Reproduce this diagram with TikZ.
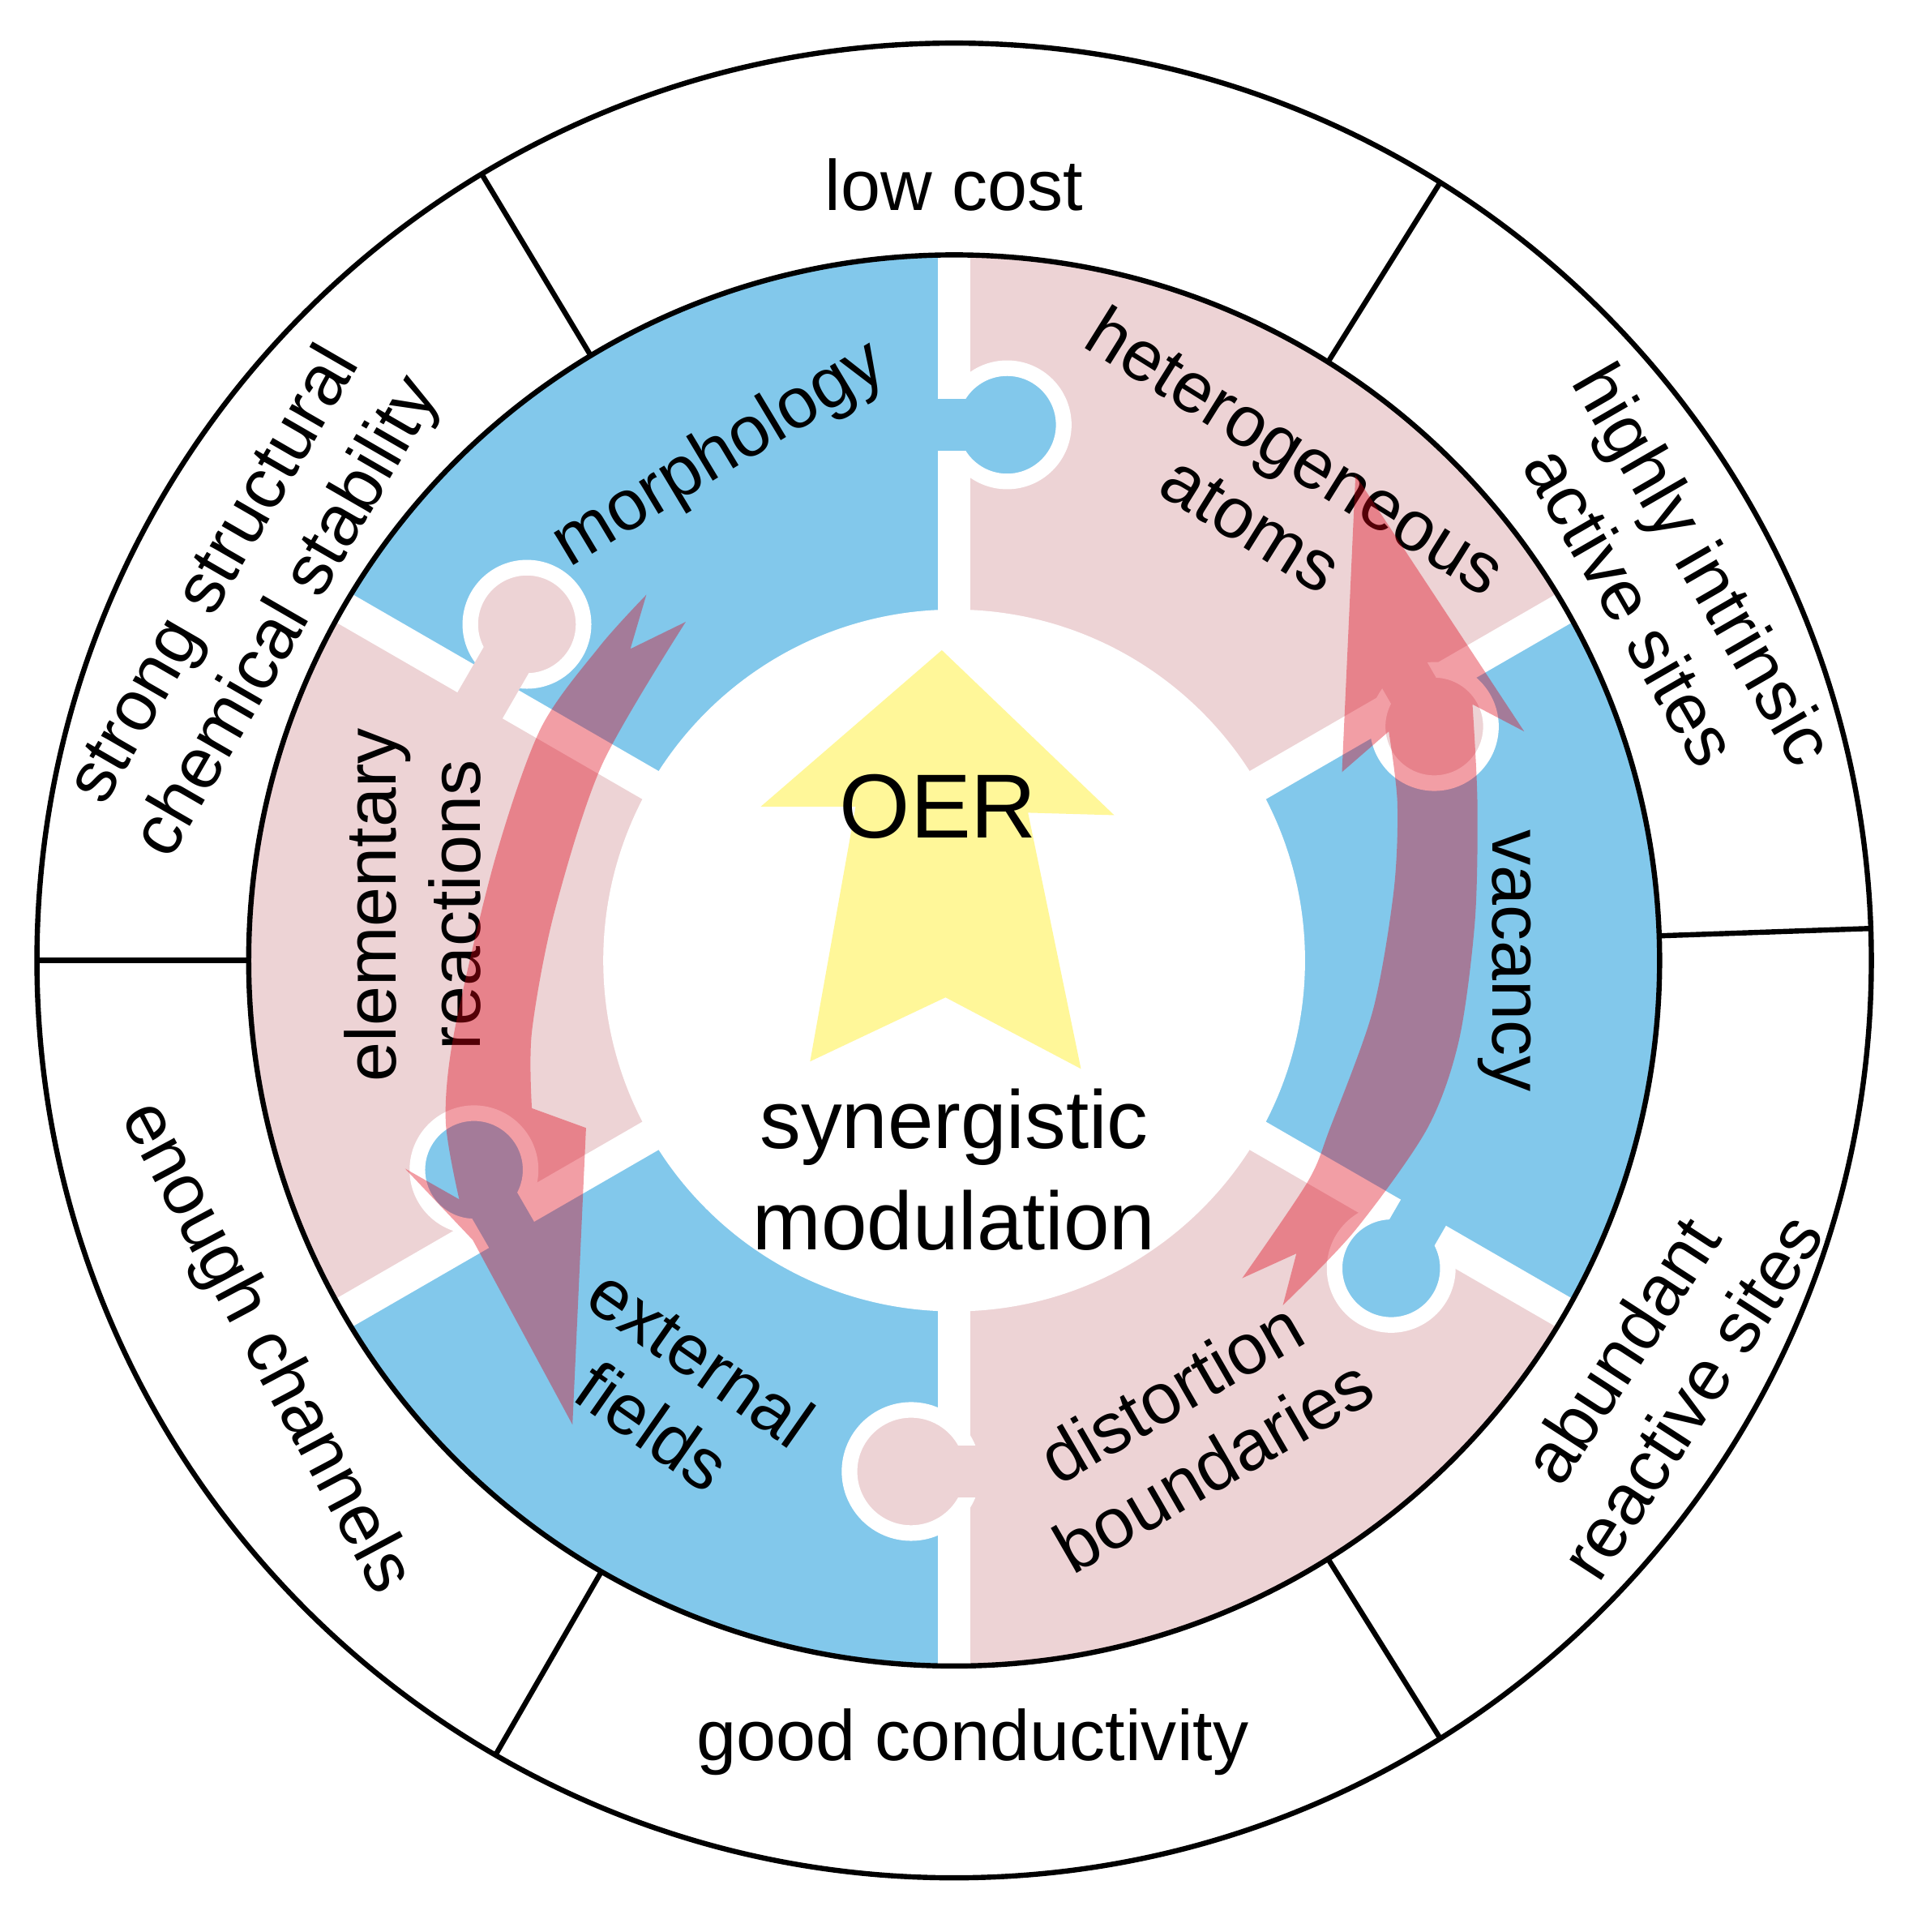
\documentclass[tikz,border=0pt]{standalone}
\usepackage{fontspec}
\setmainfont{Liberation Sans}
\definecolor{pblue}{RGB}{130,200,235}
\definecolor{ppink}{RGB}{237,211,213}
\definecolor{arred}{RGB}{222,0,20}
\definecolor{yel}{RGB}{255,247,153}
\begin{document}
\begin{tikzpicture}[x=0.01cm,y=0.01cm,
  lbl/.style={font=\fontsize{16.5}{19.5}\selectfont,align=center,inner sep=0pt},
  gap/.style={white,line width=7.5pt},
  knob/.style={draw=white,line width=3.6pt},
  neck/.style={line width=12pt},
  blk/.style={line width=1.2pt},
  arr/.style={fill=arred,opacity=.38}]
\useasboundingbox (-775,780) rectangle (775,-789);
% puzzle ring
\begin{scope}
\clip (0,0) circle[radius=572];
\fill[ppink] (0,0) -- (30:600) arc[start angle=30,end angle=90,radius=600] -- cycle;
\fill[pblue] (0,0) -- (90:600) arc[start angle=90,end angle=150,radius=600] -- cycle;
\fill[ppink] (0,0) -- (150:600) arc[start angle=150,end angle=210,radius=600] -- cycle;
\fill[pblue] (0,0) -- (210:600) arc[start angle=210,end angle=270,radius=600] -- cycle;
\fill[ppink] (0,0) -- (270:600) arc[start angle=270,end angle=330,radius=600] -- cycle;
\fill[pblue] (0,0) -- (330:600) arc[start angle=330,end angle=390,radius=600] -- cycle;
\foreach \a in {30,90,150,210,270,330} \draw[gap] (\a:270) -- (\a:600);
% knobs
\fill[pblue,knob] (43,435) circle[radius=46];
\draw[pblue,neck] (43,435) -- (-20,435);
\fill[ppink,knob] (-347,273) circle[radius=46];
\draw[ppink,neck] (-347,273) -- (-402,178);
\fill[ppink,knob] (390,190) circle[radius=46];
\draw[ppink,neck] (390,190) -- (335,285);
\fill[pblue,knob] (-390,-170) circle[radius=46];
\draw[pblue,neck] (-390,-170) -- (-335,-265);
\fill[ppink,knob] (-35,-415) circle[radius=50];
\draw[ppink,neck] (-35,-415) -- (40,-415);
\fill[pblue,knob] (355,-250) circle[radius=46];
\draw[pblue,neck] (355,-250) -- (410,-155);
\fill[white] (0,0) circle[radius=285];
\end{scope}
% outer rings
\draw[blk] (0,0) circle[radius=745];
\draw[blk] (0,0) circle[radius=573];
\foreach \a in {2,58,121,180,240,302} \draw[blk] (\a:573) -- (\a:745);
% yellow arrow
\fill[yel] (-10,252) -- (130,118) -- (60,120) -- (103,-88) -- (-7,-30) -- (-117,-82) -- (-80,125) -- (-157,125) -- cycle;
% labels
\node[lbl] (lc) at (0,630) {low cost};
\node[lbl] (gc) at (15,-635) {good conductivity};
\node[lbl,rotate=-60] (hi) at (580,305) {highly intrinsic\\active sites};
\node[lbl,rotate=57] (ab) at (570,-335) {abundant\\reactive sites};
\node[lbl,rotate=60] (ss) at (-570,295) {strong structural\\chemical stability};
\node[lbl,rotate=-62] (ec) at (-560,-315) {enough channels};
\node[lbl,rotate=31] (mo) at (-190,410) {morphology};
\node[lbl,rotate=-32] (ha) at (260,385) {heterogeneous\\atoms};
\node[lbl,rotate=-90] (va) at (447,0) {vacancy};
\node[lbl,rotate=30] (db) at (193,-380) {distortion\\boundaries};
\node[lbl,rotate=-35] (ef) at (-225,-350) {external\\fields};
\node[lbl,rotate=90] (er) at (-440,45) {elementary\\reactions};
\node[inner sep=0pt,font=\fontsize{21}{24}\selectfont] (oer) at (-13,125) {OER};
\node[inner sep=0pt,align=center,font=\fontsize{19}{23.5}\selectfont] (sm) at (0,-170) {synergistic\\modulation};
% red arrows
\fill[arr] (-250,297) -- (-263,253) -- (-218,275)
  -- plot[smooth] coordinates {(-218,275) (-286,159) (-325,38) (-343,-58) (-343,-120)}
  -- (-299,-136) -- (-310,-377) -- (-391,-227) -- (-446,-169) -- (-402,-194)
  -- plot[smooth] coordinates {(-402,-194) (-413,-130) (-406,-58) (-373,82) (-336,188) (-288,255) (-250,297)} -- cycle;
\fill[arr] (326,394) -- (463,186) -- (421,208)
  -- plot[smooth] coordinates {(421,208) (425,128) (423,32) (410,-65) (384,-137) (325,-220) (267,-280)}
  -- (278,-238) -- (234,-258)
  -- plot[smooth] coordinates {(234,-258) (287,-180) (305,-137) (340,-41) (357,56) (360,128) (353,186)}
  -- (315,153) -- cycle;
\end{tikzpicture}
\end{document}
